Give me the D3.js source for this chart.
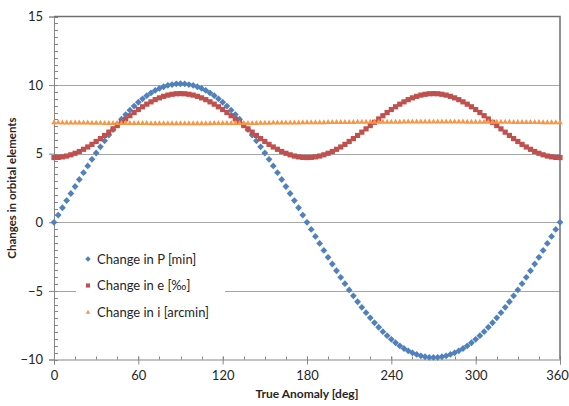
<!DOCTYPE html>
<html>
<head>
<meta charset="utf-8">
<script src="https://cdn.jsdelivr.net/npm/d3@7"></script>
<style>
  body { margin: 0; background: #fff; }
  svg text { font-family: Lato, "Open Sans", sans-serif; fill: #262626; }
</style>
</head>
<body>
<svg id="chart"></svg>
<script>
// chart size
const width = 569;
const height = 406;

// true anomaly samples [deg]
const anomaly = [0,3,6,9,12,15,18,21,24,27,30,33,36,39,42,45,48,51,54,57,60,63,66,69,72,75,78,81,84,87,
  90,93,96,99,102,105,108,111,114,117,120,123,126,129,132,135,138,141,144,147,150,153,156,159,162,165,168,171,174,177,
  180,183,186,189,192,195,198,201,204,207,210,213,216,219,222,225,228,231,234,237,240,243,246,249,252,255,258,261,264,267,
  270,273,276,279,282,285,288,291,294,297,300,303,306,309,312,315,318,321,324,327,330,333,336,339,342,345,348,351,354,357,360];

// Change in P [min]
const changeP = [0,0.53,1.06,1.58,2.10,2.61,3.12,3.62,4.11,4.59,5.05,5.50,5.94,6.36,6.76,7.14,7.51,7.85,8.17,8.47,8.75,9.00,9.23,9.43,9.61,9.76,9.88,9.98,10.04,10.09,
  10.10,10.09,10.04,9.98,9.88,9.76,9.61,9.43,9.23,9.00,8.75,8.47,8.17,7.85,7.51,7.14,6.76,6.36,5.94,5.50,5.05,4.59,4.11,3.62,3.12,2.61,2.10,1.58,1.06,0.53,
  0,-0.52,-1.03,-1.54,-2.05,-2.55,-3.04,-3.53,-4.01,-4.47,-4.93,-5.36,-5.79,-6.20,-6.59,-6.96,-7.32,-7.65,-7.97,-8.26,-8.53,-8.78,-9.00,-9.20,-9.37,-9.51,-9.63,-9.73,-9.80,-9.84,
  -9.85,-9.84,-9.80,-9.73,-9.63,-9.51,-9.37,-9.20,-9.00,-8.78,-8.53,-8.26,-7.97,-7.65,-7.32,-6.96,-6.59,-6.20,-5.79,-5.36,-4.93,-4.47,-4.01,-3.53,-3.04,-2.55,-2.05,-1.54,-1.03,-0.52,0];

// Change in e [per mille]
const changeE = [4.72,4.73,4.77,4.83,4.92,5.03,5.16,5.32,5.49,5.68,5.89,6.10,6.33,6.57,6.81,7.05,7.29,7.53,7.77,8.00,8.22,8.42,8.61,8.78,8.94,9.07,9.18,9.27,9.33,9.37,
  9.38,9.37,9.33,9.27,9.18,9.07,8.94,8.78,8.61,8.42,8.22,8.00,7.77,7.53,7.29,7.05,6.81,6.57,6.33,6.10,5.89,5.68,5.49,5.32,5.16,5.03,4.92,4.83,4.77,4.73,
  4.72,4.73,4.77,4.83,4.92,5.03,5.16,5.32,5.49,5.68,5.89,6.10,6.33,6.57,6.81,7.05,7.29,7.53,7.77,8.00,8.22,8.42,8.61,8.78,8.94,9.07,9.18,9.27,9.33,9.37,
  9.38,9.37,9.33,9.27,9.18,9.07,8.94,8.78,8.61,8.42,8.22,8.00,7.77,7.53,7.29,7.05,6.81,6.57,6.33,6.10,5.89,5.68,5.49,5.32,5.16,5.03,4.92,4.83,4.77,4.73,4.72];

// Change in i [arcmin]
const changeI = [7.30,7.30,7.29,7.29,7.29,7.28,7.28,7.28,7.28,7.27,7.27,7.27,7.26,7.26,7.26,7.26,7.26,7.25,7.25,7.25,7.25,7.25,7.25,7.24,7.24,7.24,7.24,7.24,7.24,7.24,
  7.24,7.24,7.24,7.24,7.24,7.24,7.24,7.24,7.25,7.25,7.25,7.25,7.25,7.25,7.26,7.26,7.26,7.26,7.26,7.27,7.27,7.27,7.28,7.28,7.28,7.28,7.29,7.29,7.29,7.30,
  7.30,7.30,7.31,7.31,7.31,7.32,7.32,7.32,7.32,7.33,7.33,7.33,7.34,7.34,7.34,7.34,7.34,7.35,7.35,7.35,7.35,7.35,7.35,7.36,7.36,7.36,7.36,7.36,7.36,7.36,
  7.36,7.36,7.36,7.36,7.36,7.36,7.36,7.36,7.35,7.35,7.35,7.35,7.35,7.35,7.34,7.34,7.34,7.34,7.34,7.33,7.33,7.33,7.32,7.32,7.32,7.32,7.31,7.31,7.31,7.30,7.30];

const xTicks = [0, 60, 120, 180, 240, 300, 360];
const yTicks = [-10, -5, 0, 5, 10, 15];
const seriesNames = ["Change in P [min]", "Change in e [\u2030]", "Change in i [arcmin]"];

const plot = { left: 54, right: 560, top: 16.5, bottom: 359.5 };

const svg = d3.select("#chart")
    .attr("width", width)
    .attr("height", height);

const x = d3.scaleLinear().domain([0, 360]).range([plot.left, plot.right]);
const y = d3.scaleLinear().domain([-10, 15]).range([plot.bottom, plot.top]);

// horizontal gridlines
svg.append("g")
    .selectAll("line")
    .data(yTicks.filter(d => d > -10 && d < 15))
    .enter().append("line")
    .attr("x1", plot.left).attr("x2", plot.right)
    .attr("y1", d => Math.round(y(d)) + 0.5)
    .attr("y2", d => Math.round(y(d)) + 0.5)
    .attr("stroke", "#a6a6a6")
    .attr("stroke-width", 1);

// minor ticks (inside)
const yMinor = d3.range(-10, 15.01, 0.5);
svg.append("g")
    .selectAll("line")
    .data(yMinor)
    .enter().append("line")
    .attr("x1", plot.left).attr("x2", plot.left + 4)
    .attr("y1", d => Math.round(y(d)) + 0.5)
    .attr("y2", d => Math.round(y(d)) + 0.5)
    .attr("stroke", "#868686");

const xMinor = d3.range(0, 361, 15);
svg.append("g")
    .selectAll("line")
    .data(xMinor)
    .enter().append("line")
    .attr("x1", d => Math.round(x(d)) + 0.5)
    .attr("x2", d => Math.round(x(d)) + 0.5)
    .attr("y1", plot.bottom).attr("y2", plot.bottom - 3)
    .attr("stroke", "#868686");

// axes via d3
const yAxis = svg.append("g")
    .attr("transform", `translate(${plot.left},0)`)
    .call(d3.axisLeft(y).tickValues(yTicks).tickSize(5).tickPadding(6));
const xAxis = svg.append("g")
    .attr("transform", `translate(0,${plot.bottom})`)
    .call(d3.axisBottom(x).tickValues(xTicks).tickSize(5).tickPadding(6));

[yAxis, xAxis].forEach(g => {
    g.select(".domain").attr("stroke", "#868686");
    g.selectAll(".tick line").attr("stroke", "#868686");
    g.selectAll(".tick text")
        .style("font-family", "Lato, sans-serif")
        .style("font-size", "13px")
        .attr("fill", "#262626");
});
xAxis.selectAll(".tick line").attr("y1", -3);
// keep the last label inside the window
xAxis.selectAll(".tick text").filter(d => d === 360).attr("dx", "-3px");

// top and right border
svg.append("path")
    .attr("d", `M${plot.left},${plot.top}H${plot.right}V${plot.bottom}`)
    .attr("fill", "none")
    .attr("stroke", "#6f6f6f")
    .attr("stroke-width", 1.5);

// marker shapes
const diamond = "M0,-3.4L3.4,0L0,3.4L-3.4,0Z";
const square = "M-2.6,-2.6H2.6V2.6H-2.6Z";
const triangle = "M0,-2.8L2.8,2.2H-2.8Z";

const series = [
    { values: changeP, color: "#4f81bd", shape: diamond },
    { values: changeE, color: "#c0504d", shape: square },
    { values: changeI, color: "#f79646", shape: triangle }
];

series.forEach(s => {
    svg.append("g")
        .selectAll("path")
        .data(anomaly.map((a, k) => [a, s.values[k]]))
        .enter().append("path")
        .attr("d", s.shape)
        .attr("transform", d => `translate(${x(d[0])},${y(d[1])})`)
        .attr("fill", s.color);
});

// legend
const legend = svg.append("g");
legend.append("rect")
    .attr("x", 76).attr("y", 245)
    .attr("width", 149).attr("height", 80)
    .attr("fill", "#fff");
const rows = legend.selectAll("g.row")
    .data(series)
    .enter().append("g")
    .attr("class", "row")
    .attr("transform", (d, k) => `translate(88,${259 + k * 26.5})`);
rows.append("path")
    .attr("d", d => d.shape)
    .attr("transform", "scale(0.8)")
    .attr("fill", d => d.color);
rows.append("text")
    .attr("x", 9)
    .attr("y", 4.5)
    .style("font-size", "13px")
    .text((d, k) => seriesNames[k]);

// axis titles
svg.append("text")
    .attr("x", (plot.left + plot.right) / 2)
    .attr("y", 398)
    .attr("text-anchor", "middle")
    .style("font-size", "12px")
    .style("font-weight", "bold")
    .text("True Anomaly [deg]");

svg.append("text")
    .attr("transform", `translate(16,${(plot.top + plot.bottom) / 2}) rotate(-90)`)
    .attr("text-anchor", "middle")
    .style("font-size", "11.5px")
    .style("font-weight", "bold")
    .text("Changes in orbital elements");
</script>
</body>
</html>
